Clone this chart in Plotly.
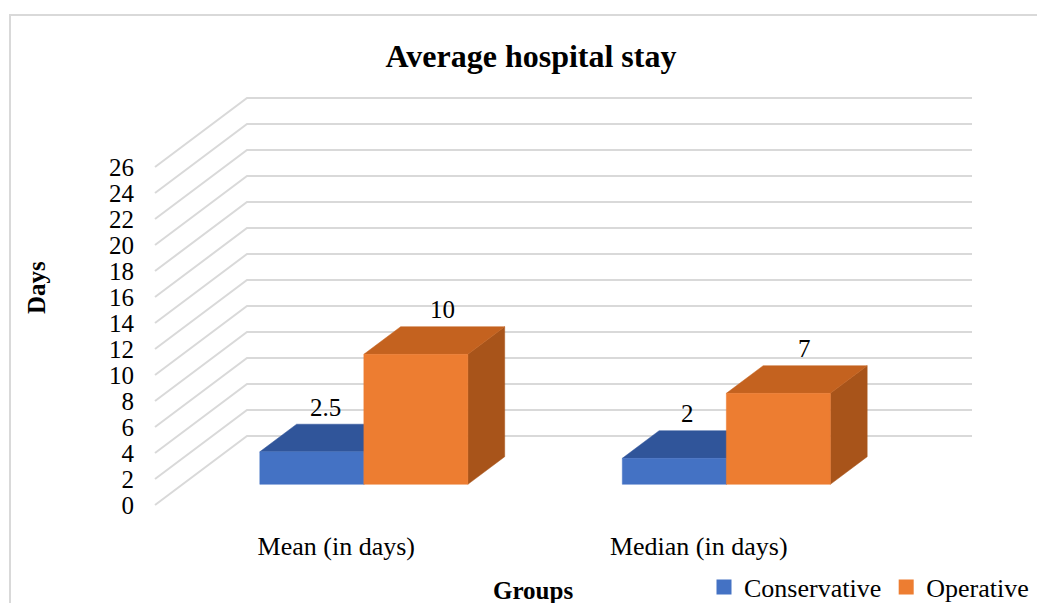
import plotly.graph_objects as go

# ---- data ----
categories = ["Mean (in days)", "Median (in days)"]
series_names = ["Conservative", "Operative"]
conservative = [2.5, 2]
operative = [10, 7]
y_ticks = list(range(0, 27, 2))

chart_title = "Average hospital stay"
y_title = "Days"
x_title = "Groups"

# ---- styling ----
FONT = "Liberation Serif, Times New Roman, serif"
GRID = "#d9d9d9"
face_colors = {
    "Conservative": {"front": "#4472C4", "top": "#30559A", "side": "#3A62A8"},
    "Operative": {"front": "#ED7D31", "top": "#C4621F", "side": "#A8541A"},
}
label_xshift = {"Conservative": -5, "Operative": 8}

W, H = 1037, 603
# plot-area pixel edges
L, R, T, B = 140, 1000, 80, 530
PX_PER_CAT = 362.5      # horizontal pixels per category slot
PX_PER_DAY = 13.0       # vertical pixels per day
FRONT_LEFT_PX = 155     # pixel x of the front-left corner of the floor
ZERO_PX = 505           # pixel y of value 0 at the front of the floor

x_range = [-0.5 - (FRONT_LEFT_PX - L) / PX_PER_CAT,
           -0.5 + (R - FRONT_LEFT_PX) / PX_PER_CAT]
y_range = [-(B - ZERO_PX) / PX_PER_DAY, (ZERO_PX - T) / PX_PER_DAY]

# oblique projection of the depth axis (full depth of the chart box)
DX = 92 / PX_PER_CAT
DY = 69 / PX_PER_DAY
BAR_W = 0.287
D0, D1 = 0.3, 0.7       # bars sit in the middle of the depth


def px_x(p):
    return (p - L) / (R - L)


def px_y(p):
    return (B - p) / (B - T)


def font(size):
    return dict(family=FONT, size=size, color="black")


fig = go.Figure()

# ---- walls: side wall diagonals + back wall gridlines ----
gx, gy = [], []
left, right = -0.5, len(categories) - 0.5
for v in y_ticks:
    gx += [left, left + DX, right + DX, None]
    gy += [v, v + DY, v + DY, None]
fig.add_trace(go.Scatter(x=gx, y=gy, mode="lines",
                         line=dict(color=GRID, width=2),
                         hoverinfo="skip", showlegend=False))


def poly(xs, ys, color):
    fig.add_trace(go.Scatter(x=xs + [xs[0]], y=ys + [ys[0]], mode="lines",
                             fill="toself", fillcolor=color,
                             line=dict(color=color, width=0.5),
                             hoverinfo="skip", showlegend=False))


# ---- 3D bars (front, right side and top faces) ----
series = [("Conservative", conservative), ("Operative", operative)]
labels = []
for i, _ in enumerate(categories):
    for s, (name, vals) in enumerate(series):
        v = vals[i]
        c = face_colors[name]
        x0 = i - BAR_W + s * BAR_W
        x1 = x0 + BAR_W
        fx0, fx1 = x0 + D0 * DX, x1 + D0 * DX
        bx0, bx1 = x0 + D1 * DX, x1 + D1 * DX
        fy, by = D0 * DY, D1 * DY
        # right side face
        poly([fx1, fx1, bx1, bx1], [fy, fy + v, by + v, by], c["side"])
        # top face
        poly([fx0, fx1, bx1, bx0], [fy + v, fy + v, by + v, by + v], c["top"])
        # front face
        poly([fx0, fx1, fx1, fx0], [fy, fy, fy + v, fy + v], c["front"])
        labels.append(dict(x=(fx0 + fx1) / 2 + (D1 - D0) / 2 * DX, y=by + v,
                           text=f"{v:g}", xshift=label_xshift[name]))

# ---- legend entries ----
for name, _ in series:
    fig.add_trace(go.Scatter(x=[None], y=[None], mode="markers", name=name,
                             marker=dict(symbol="square", size=15,
                                         color=face_colors[name]["front"])))

annotations = []
for lab in labels:
    annotations.append(dict(x=lab["x"], y=lab["y"], xref="x", yref="y",
                            text=lab["text"], showarrow=False,
                            xanchor="center", yanchor="middle",
                            xshift=lab["xshift"], yshift=17, font=font(25)))

annotations.append(dict(x=px_x(36), y=px_y(288), xref="paper", yref="paper",
                        text=f"<b>{y_title}</b>", textangle=-90, showarrow=False,
                        xanchor="center", yanchor="middle", font=font(25)))
annotations.append(dict(x=px_x(533), y=px_y(590), xref="paper", yref="paper",
                        text=f"<b>{x_title}</b>", showarrow=False,
                        xanchor="center", yanchor="middle", font=font(25)))

fig.update_layout(
    width=W, height=H,
    margin=dict(l=L, r=W - R, t=T, b=H - B, autoexpand=False),
    paper_bgcolor="white", plot_bgcolor="white",
    title=dict(text=f"<b>{chart_title}</b>", x=531 / W, xanchor="center",
               y=1 - 56 / H, yanchor="middle", font=font(32)),
    xaxis=dict(range=x_range, tickvals=list(range(len(categories))),
               ticktext=categories, showgrid=False, zeroline=False,
               showline=False, ticks="", fixedrange=True, tickfont=font(26),
               ticklabelstandoff=-2),
    yaxis=dict(range=y_range, tickvals=y_ticks, showgrid=False, zeroline=False,
               showline=False, ticks="", fixedrange=True, tickfont=font(25),
               ticklabelstandoff=5),
    legend=dict(orientation="h", x=px_x(1034), xanchor="right",
                y=px_y(587), yanchor="middle", bgcolor="rgba(0,0,0,0)",
                font=font(26), itemwidth=30, tracegroupgap=0),
    annotations=annotations,
    shapes=[dict(type="rect", xref="paper", yref="paper",
                 x0=px_x(10), x1=px_x(W + 20), y0=px_y(15), y1=px_y(H + 20),
                 line=dict(color=GRID, width=2), fillcolor="rgba(0,0,0,0)",
                 layer="below")],
    showlegend=True,
)

fig.write_html("out.html")
